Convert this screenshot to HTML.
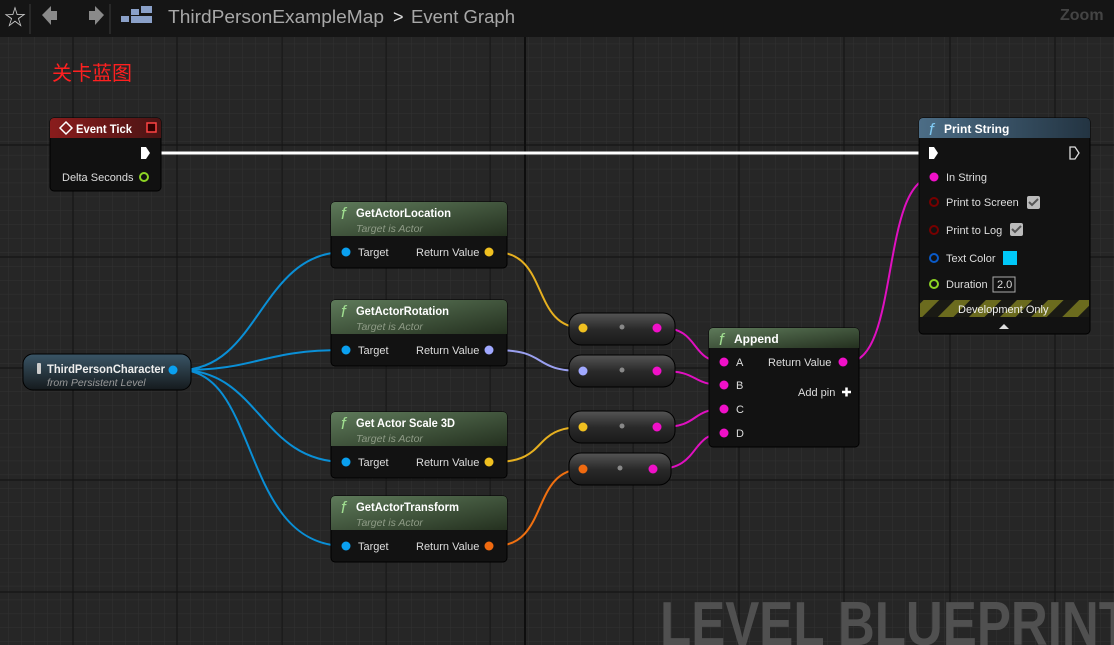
<!DOCTYPE html>
<html><head><meta charset="utf-8"><style>
html,body{margin:0;padding:0;width:1114px;height:645px;overflow:hidden;background:#262626;font-family:"Liberation Sans","Noto Sans CJK SC",sans-serif}
svg text{font-family:"Liberation Sans","Noto Sans CJK SC",sans-serif}
</style></head><body>
<svg width="1114" height="645" viewBox="0 0 1114 645" xmlns="http://www.w3.org/2000/svg">
<defs>
<pattern id="minor" x="8" y="2" width="13" height="13.9" patternUnits="userSpaceOnUse">
<path d="M0 0H13M0 0V14" stroke="#323232" stroke-width="1" fill="none"/>
</pattern>
<linearGradient id="red" x1="0" y1="0" x2="1" y2="0"><stop offset="0" stop-color="#8a1c1c"/><stop offset="1" stop-color="#4a1414"/></linearGradient>
<linearGradient id="grn" x1="0" y1="0" x2="1" y2="1"><stop offset="0" stop-color="#5e7a5a"/><stop offset="1" stop-color="#24301f"/></linearGradient>
<linearGradient id="blu" x1="0" y1="0" x2="1" y2="0"><stop offset="0" stop-color="#4c6d86"/><stop offset="1" stop-color="#233442"/></linearGradient>
<linearGradient id="pill" x1="0" y1="0" x2="0" y2="1"><stop offset="0" stop-color="#555"/><stop offset="0.5" stop-color="#2a2a2a"/><stop offset="1" stop-color="#1a1a1a"/></linearGradient>
<linearGradient id="var" x1="0" y1="0" x2="0" y2="1"><stop offset="0" stop-color="#3a5566"/><stop offset="1" stop-color="#151a1d"/></linearGradient>
<pattern id="haz" width="22" height="22" patternUnits="userSpaceOnUse" patternTransform="rotate(45)"><rect width="22" height="22" fill="#1a1a14"/><rect width="11" height="22" fill="#6b6b1e"/></pattern>
</defs>
<rect x="0" y="37" width="1114" height="608" fill="#262626"/>
<rect x="0" y="37" width="1114" height="608" fill="url(#minor)"/>
<g stroke="#151515" stroke-width="1.2">
<path d="M73 37V645M177 37V645M282 37V645M386 37V645M490 37V645M633 37V645M739 37V645M844 37V645M950 37V645M1055 37V645"/>
<path d="M0 145H1114M0 257H1114M0 368H1114M0 480H1114M0 592H1114"/>
</g>
<path d="M525 37V645" stroke="#0e0e0e" stroke-width="2"/>
<!-- toolbar -->
<rect x="0" y="0" width="1114" height="37" fill="#151515"/>
<text x="4" y="25" font-size="22" fill="#ccc">☆</text>
<path d="M30 4V34M110 4V34" stroke="#3a3a3a"/>
<path d="M42 15l9-9v5h6v9h-6v5z" fill="#8a8a8a"/>
<path d="M104 15l-9-9v5h-6v9h6v5z" fill="#8a8a8a"/>
<rect x="131" y="9" width="8" height="6" fill="#8aa0c8"/><rect x="141" y="6" width="11" height="7" fill="#8aa0c8"/><rect x="121" y="16" width="8" height="6" fill="#8aa0c8"/><rect x="131" y="16" width="21" height="7" fill="#8aa0c8"/>
<text x="168" y="23" font-size="18" fill="#a8a8a8" textLength="216" lengthAdjust="spacingAndGlyphs">ThirdPersonExampleMap</text>
<text x="393" y="23" font-size="18" fill="#ddd">&gt;</text>
<text x="411" y="23" font-size="18" fill="#a8a8a8" textLength="104" lengthAdjust="spacingAndGlyphs">Event Graph</text>
<text x="1060" y="20" font-size="16" fill="#444" font-weight="bold">Zoom</text>
<text x="52" y="80" font-size="20" fill="#ff2020">关卡蓝图</text>
<text x="660" y="645" font-size="62" font-weight="bold" fill="#505050" textLength="470" lengthAdjust="spacingAndGlyphs">LEVEL BLUEPRINT</text>
<!-- wires -->
<g fill="none" stroke-width="2">
<path d="M150 153H932" stroke="#fff" stroke-width="3"/>
<path d="M180 370C260 370 260 252 345 252" stroke="#0a8fd6"/>
<path d="M180 370C260 370 260 350 345 350" stroke="#0a8fd6"/>
<path d="M180 370C260 370 260 462 345 462" stroke="#0a8fd6"/>
<path d="M180 370C260 370 240 546 345 546" stroke="#0a8fd6"/>
<path d="M495 252C550 252 530 328 583 328" stroke="#e6b020"/>
<path d="M495 350C550 350 530 371 583 371" stroke="#9aa0f0"/>
<path d="M495 462C550 462 530 427 583 427" stroke="#e6b020"/>
<path d="M495 546C550 546 530 469 583 469" stroke="#f07010"/>
<path d="M662 328C700 328 690 362 724 362" stroke="#e010c0"/>
<path d="M662 371C700 371 690 385 724 385" stroke="#e010c0"/>
<path d="M662 427C700 427 690 409 724 409" stroke="#e010c0"/>
<path d="M658 469C700 469 690 433 724 433" stroke="#e010c0"/>
<path d="M848 362C900 362 880 177 934 177" stroke="#e010c0"/>
</g>
<!-- Event Tick -->
<rect x="50" y="118" width="111" height="73" rx="4" fill="#111" stroke="#000"/>
<path d="M54 118h103a4 4 0 0 1 4 4v16H50v-16a4 4 0 0 1 4-4z" fill="url(#red)"/>
<path d="M66 122l6 6-6 6-6-6z" fill="none" stroke="#fff" stroke-width="1.5"/>
<text x="76" y="133" font-size="12" font-weight="bold" fill="#fff" textLength="56" lengthAdjust="spacingAndGlyphs">Event Tick</text>
<rect x="147" y="123" width="9" height="9" fill="#300" stroke="#f44" stroke-width="1.5"/>
<path d="M141 147h5l4 6-4 6h-5z" fill="#fff"/>
<text x="62" y="181" font-size="11" fill="#ddd">Delta Seconds</text>
<circle cx="144" cy="177" r="4" fill="none" stroke="#8dd424" stroke-width="2"/>
<!-- ThirdPersonCharacter -->
<rect x="23" y="354" width="168" height="36" rx="10" fill="url(#var)" stroke="#000"/>
<rect x="37" y="363" width="4" height="11" rx="1" fill="#ccc"/>
<text x="47" y="373" font-size="12" font-weight="bold" fill="#eee" textLength="118" lengthAdjust="spacingAndGlyphs">ThirdPersonCharacter</text>
<text x="47" y="386" font-size="10.5" font-style="italic" fill="#999">from Persistent Level</text>
<circle cx="173" cy="370" r="4.5" fill="#0aa0f0"/>
<g font-size="11">
<g transform="translate(331,202)">
<rect width="176" height="66" rx="4" fill="#121212" stroke="#000"/>
<path d="M4 0h168a4 4 0 0 1 4 4v30H0V4a4 4 0 0 1 4-4z" fill="url(#grn)"/>
<text x="10" y="17" font-size="17" font-style="italic" fill="#9fdc8f" font-family="Liberation Serif">f</text>
<text x="25" y="15" font-size="12" font-weight="bold" fill="#fff" textLength="95" lengthAdjust="spacingAndGlyphs">GetActorLocation</text>
<text x="25" y="30" font-size="10.5" font-style="italic" fill="#8e9b86">Target is Actor</text>
<circle cx="15" cy="50" r="4.5" fill="#0aa0f0"/><text x="27" y="54" fill="#ddd">Target</text>
<text x="85" y="54" fill="#ddd">Return Value</text><circle cx="158" cy="50" r="4.5" fill="#f0c020"/>
</g>
<g transform="translate(331,300)">
<rect width="176" height="66" rx="4" fill="#121212" stroke="#000"/>
<path d="M4 0h168a4 4 0 0 1 4 4v30H0V4a4 4 0 0 1 4-4z" fill="url(#grn)"/>
<text x="10" y="17" font-size="17" font-style="italic" fill="#9fdc8f" font-family="Liberation Serif">f</text>
<text x="25" y="15" font-size="12" font-weight="bold" fill="#fff" textLength="93" lengthAdjust="spacingAndGlyphs">GetActorRotation</text>
<text x="25" y="30" font-size="10.5" font-style="italic" fill="#8e9b86">Target is Actor</text>
<circle cx="15" cy="50" r="4.5" fill="#0aa0f0"/><text x="27" y="54" fill="#ddd">Target</text>
<text x="85" y="54" fill="#ddd">Return Value</text><circle cx="158" cy="50" r="4.5" fill="#a0a8ff"/>
</g>
<g transform="translate(331,412)">
<rect width="176" height="66" rx="4" fill="#121212" stroke="#000"/>
<path d="M4 0h168a4 4 0 0 1 4 4v30H0V4a4 4 0 0 1 4-4z" fill="url(#grn)"/>
<text x="10" y="17" font-size="17" font-style="italic" fill="#9fdc8f" font-family="Liberation Serif">f</text>
<text x="25" y="15" font-size="12" font-weight="bold" fill="#fff" textLength="99" lengthAdjust="spacingAndGlyphs">Get Actor Scale 3D</text>
<text x="25" y="30" font-size="10.5" font-style="italic" fill="#8e9b86">Target is Actor</text>
<circle cx="15" cy="50" r="4.5" fill="#0aa0f0"/><text x="27" y="54" fill="#ddd">Target</text>
<text x="85" y="54" fill="#ddd">Return Value</text><circle cx="158" cy="50" r="4.5" fill="#f0c020"/>
</g>
<g transform="translate(331,496)">
<rect width="176" height="66" rx="4" fill="#121212" stroke="#000"/>
<path d="M4 0h168a4 4 0 0 1 4 4v30H0V4a4 4 0 0 1 4-4z" fill="url(#grn)"/>
<text x="10" y="17" font-size="17" font-style="italic" fill="#9fdc8f" font-family="Liberation Serif">f</text>
<text x="25" y="15" font-size="12" font-weight="bold" fill="#fff" textLength="103" lengthAdjust="spacingAndGlyphs">GetActorTransform</text>
<text x="25" y="30" font-size="10.5" font-style="italic" fill="#8e9b86">Target is Actor</text>
<circle cx="15" cy="50" r="4.5" fill="#0aa0f0"/><text x="27" y="54" fill="#ddd">Target</text>
<text x="85" y="54" fill="#ddd">Return Value</text><circle cx="158" cy="50" r="4.5" fill="#f06a10"/>
</g>
</g>
<!-- conversion pills -->
<g>
<rect x="569" y="313" width="106" height="32" rx="12" fill="url(#pill)" stroke="#000"/>
<circle cx="583" cy="328" r="4.5" fill="#f0c020"/><circle cx="622" cy="327" r="2.5" fill="#888"/><circle cx="657" cy="328" r="4.5" fill="#f010c8"/>
<rect x="569" y="355" width="106" height="32" rx="12" fill="url(#pill)" stroke="#000"/>
<circle cx="583" cy="371" r="4.5" fill="#a0a8ff"/><circle cx="622" cy="370" r="2.5" fill="#888"/><circle cx="657" cy="371" r="4.5" fill="#f010c8"/>
<rect x="569" y="411" width="106" height="32" rx="12" fill="url(#pill)" stroke="#000"/>
<circle cx="583" cy="427" r="4.5" fill="#f0c020"/><circle cx="622" cy="426" r="2.5" fill="#888"/><circle cx="657" cy="427" r="4.5" fill="#f010c8"/>
<rect x="569" y="453" width="102" height="32" rx="12" fill="url(#pill)" stroke="#000"/>
<circle cx="583" cy="469" r="4.5" fill="#f06a10"/><circle cx="620" cy="468" r="2.5" fill="#888"/><circle cx="653" cy="469" r="4.5" fill="#f010c8"/>
</g>
<!-- Append -->
<g transform="translate(709,328)" font-size="11">
<rect width="150" height="119" rx="4" fill="#121212" stroke="#000"/>
<path d="M4 0h142a4 4 0 0 1 4 4v16H0V4a4 4 0 0 1 4-4z" fill="url(#grn)"/>
<text x="10" y="17" font-size="17" font-style="italic" fill="#9fdc8f" font-family="Liberation Serif">f</text>
<text x="25" y="15" font-size="12" font-weight="bold" fill="#fff">Append</text>
<circle cx="15" cy="34" r="4.5" fill="#f010c8"/><text x="27" y="38" fill="#ddd">A</text>
<circle cx="15" cy="57" r="4.5" fill="#f010c8"/><text x="27" y="61" fill="#ddd">B</text>
<circle cx="15" cy="81" r="4.5" fill="#f010c8"/><text x="27" y="85" fill="#ddd">C</text>
<circle cx="15" cy="105" r="4.5" fill="#f010c8"/><text x="27" y="109" fill="#ddd">D</text>
<text x="59" y="38" fill="#ddd">Return Value</text><circle cx="134" cy="34" r="4.5" fill="#f010c8"/>
<text x="89" y="68" fill="#ddd">Add pin</text>
<path d="M133 64h9M137.5 59.5v9" stroke="#fff" stroke-width="2.5"/>
</g>
<!-- Print String -->
<g transform="translate(919,118)" font-size="11">
<rect width="171" height="216" rx="4" fill="#121212" stroke="#000"/>
<path d="M4 0h163a4 4 0 0 1 4 4v16H0V4a4 4 0 0 1 4-4z" fill="url(#blu)"/>
<text x="10" y="17" font-size="17" font-style="italic" fill="#7fc8f0" font-family="Liberation Serif">f</text>
<text x="25" y="15" font-size="12" font-weight="bold" fill="#fff">Print String</text>
<path d="M10 29h5l4 6-4 6h-5z" fill="#fff"/>
<path d="M151 29h5l4 6-4 6h-5z" fill="none" stroke="#ddd" stroke-width="1.3"/>
<circle cx="15" cy="59" r="4.5" fill="#f010c8"/><text x="27" y="63" fill="#ddd">In String</text>
<circle cx="15" cy="84" r="4" fill="none" stroke="#700" stroke-width="2"/><text x="27" y="88" fill="#ddd">Print to Screen</text>
<rect x="108" y="78" width="13" height="13" rx="2" fill="#bbb"/><path d="M110 84l3 3 6-6" stroke="#555" stroke-width="2" fill="none"/>
<circle cx="15" cy="112" r="4" fill="none" stroke="#700" stroke-width="2"/><text x="27" y="116" fill="#ddd">Print to Log</text>
<rect x="91" y="105" width="13" height="13" rx="2" fill="#bbb"/><path d="M93 111l3 3 6-6" stroke="#555" stroke-width="2" fill="none"/>
<circle cx="15" cy="140" r="4" fill="none" stroke="#0a5ac8" stroke-width="2"/><text x="27" y="144" fill="#ddd">Text Color</text>
<rect x="84" y="133" width="14" height="14" fill="#00c8f8"/>
<circle cx="15" cy="166" r="4" fill="none" stroke="#8dd424" stroke-width="2"/><text x="27" y="170" fill="#ddd">Duration</text>
<rect x="74" y="159" width="22" height="15" fill="#111" stroke="#aaa"/><text x="78" y="170" fill="#ddd">2.0</text>
<rect x="1" y="182" width="169" height="17" fill="url(#haz)"/>
<text x="39" y="195" fill="#eee">Development Only</text>
<path d="M80 211l5-5 5 5z" fill="#ddd"/>
</g>
</svg>
</body></html>
